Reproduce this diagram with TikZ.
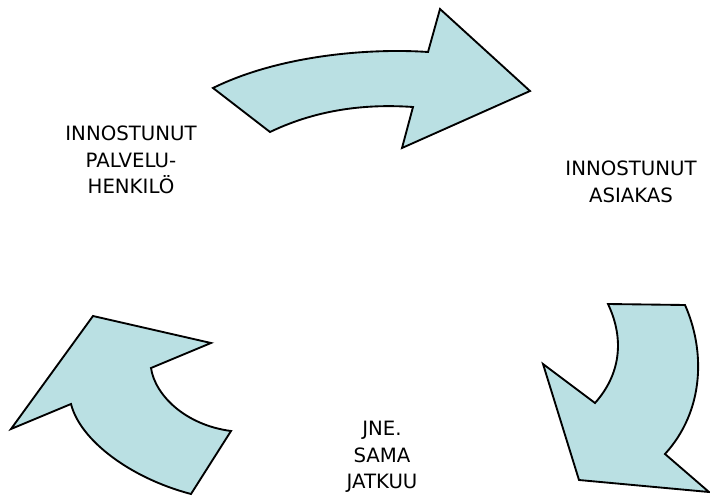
\documentclass[tikz,border=0pt]{standalone}
\usepackage{fontspec}
\setmainfont{DejaVu Sans}
\usetikzlibrary{calc}
\definecolor{arrowfill}{RGB}{186,224,227}
\tikzset{
  bigarrow/.style={draw=black, fill=arrowfill, line width=1.4pt, line join=miter},
  phase/.style={align=center, font=\fontsize{14.8pt}{20pt}\selectfont, inner sep=0pt}
}
\begin{document}
\begin{tikzpicture}[x=0.75pt, y=-0.75pt]
      \useasboundingbox (0,0) rectangle (710,496);
      % top arrow
      \draw[bigarrow] (213,88) .. controls (280,55) and (370,48) .. (428,52) -- (440,9) -- (530,91) -- (402,148) -- (413,107)
        .. controls (370,104) and (320,108) .. (270,132) -- cycle;
      % right arrow
      \draw[bigarrow] (608,304) -- (685,305) .. controls (705,350) and (705,410) .. (665,454) -- (709,492) -- (579,480) -- (543,364) -- (595,403)
        .. controls (620,375) and (625,340) .. (608,304) -- cycle;
      % left arrow
      \draw[bigarrow] (93,316) -- (211,343) -- (151,368) .. controls (155,395) and (185,425) .. (231,431) -- (191,494)
        .. controls (130,478) and (80,440) .. (71,404) -- (11,429) -- cycle;

      \node[phase] (henkilo) at (131,160) {INNOSTUNUT\\PALVELU-\\HENKILÖ};
      \node[phase] (asiakas) at (631,182) {INNOSTUNUT\\ASIAKAS};
      \node[phase] (jatkuu) at (382,457) {JNE.\\SAMA\\JATKUU};
\end{tikzpicture}
\end{document}
